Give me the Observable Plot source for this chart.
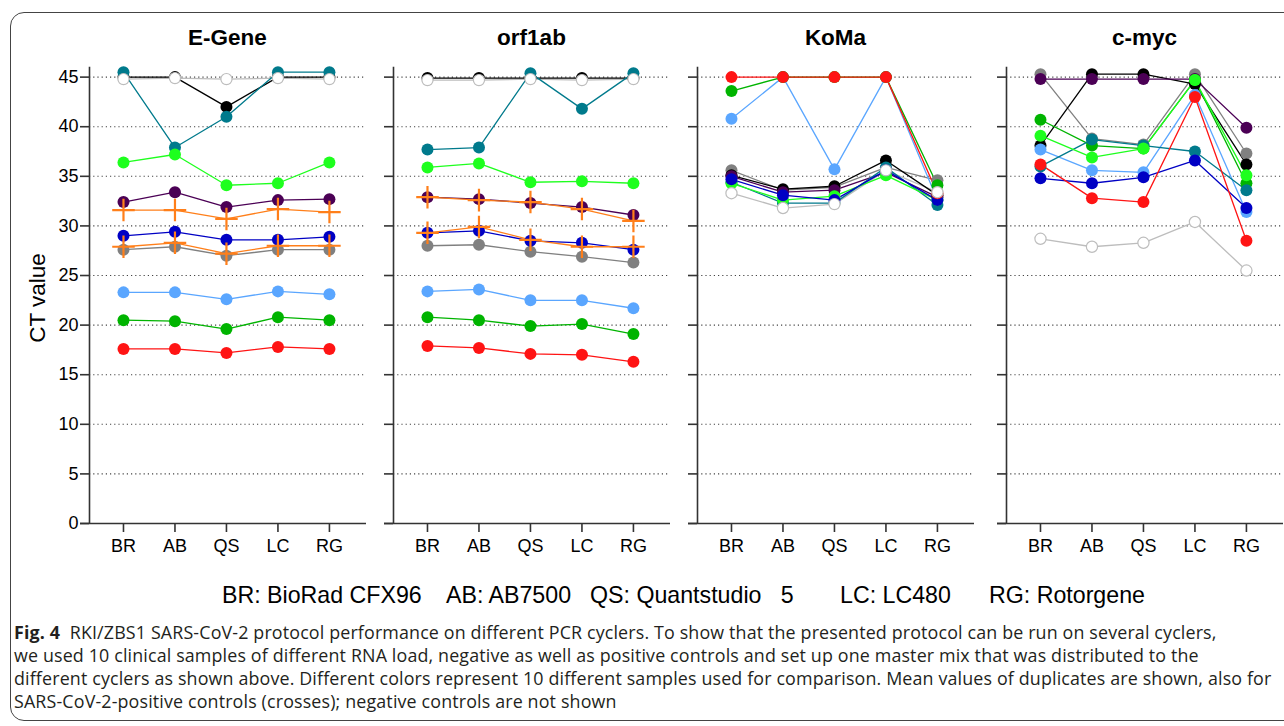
<!DOCTYPE html>
<html><head><meta charset="utf-8">
<script src="https://cdn.jsdelivr.net/npm/d3@7"></script>
<script src="https://cdn.jsdelivr.net/npm/@observablehq/plot@0.6"></script>
<style>
html,body{margin:0;padding:0;background:#fff;}
body{width:1284px;height:726px;position:relative;overflow:hidden;font-family:"Liberation Sans",Arial,sans-serif;color:#000;}
#box{position:absolute;left:10px;top:12px;width:1320px;height:709px;border:1px solid #444;border-radius:14px;box-sizing:border-box;}
.panel{position:absolute;top:0;}
.title{position:absolute;top:25px;font-weight:bold;font-size:22.5px;line-height:26px;transform:translateX(-50%);white-space:nowrap;}
#ylab{position:absolute;left:38px;top:298px;font-size:22.5px;line-height:26px;transform:translate(-50%,-50%) rotate(-90deg);white-space:nowrap;}
.leg{position:absolute;top:581px;font-size:23.2px;line-height:28px;white-space:pre;}
#caption{position:absolute;left:14px;top:621px;font-family:"Open Sans",sans-serif;font-size:17.85px;letter-spacing:0.15px;line-height:23px;color:#231f20;white-space:nowrap;}
#caption b{font-weight:700;}
</style>
</head><body>
<div id="box"></div>
<div id="root"></div>
<script>
// ---------- data ----------
const cyclers = ["BR", "AB", "QS", "LC", "RG"];
const cyclerNames = ["BioRad CFX96", "AB7500", "Quantstudio   5", "LC480", "Rotorgene"];
const genes = ["E-Gene", "orf1ab", "KoMa", "c-myc"];
const samples = ["S1", "S2", "S3", "S4", "S5", "S6", "S7", "S8", "S9", "S10"];
const controls = ["PC1", "PC2"];
const sampleColors = ["#ff1414", "#00b400", "#5aa6ff", "#808080", "#0000c4", "#4b0055", "#1eff1e", "#007a8c", "#000000", "#bdbdbd"];
const controlColor = "#ff7f1a";
const yTicks = [0, 5, 10, 15, 20, 25, 30, 35, 40, 45];

// rows = samples S1..S10, columns = BR, AB, QS, LC, RG
const eGene = [
  [17.6, 17.6, 17.2, 17.8, 17.6],
  [20.5, 20.4, 19.6, 20.8, 20.5],
  [23.3, 23.3, 22.6, 23.4, 23.1],
  [27.6, 27.9, 27.0, 27.6, 27.6],
  [29.0, 29.4, 28.6, 28.6, 28.9],
  [32.4, 33.4, 31.9, 32.6, 32.7],
  [36.4, 37.2, 34.1, 34.3, 36.4],
  [45.5, 37.9, 41.0, 45.5, 45.5],
  [45.0, 45.0, 42.0, 45.0, 45.0],
  [44.8, 44.9, 44.8, 44.9, 44.8]
];
const eGeneControls = [
  [31.6, 31.6, 30.7, 31.7, 31.4],
  [27.9, 28.3, 27.2, 28.0, 28.0]
];
const orf1ab = [
  [17.9, 17.7, 17.1, 17.0, 16.3],
  [20.8, 20.5, 19.9, 20.1, 19.1],
  [23.4, 23.6, 22.5, 22.5, 21.7],
  [28.0, 28.1, 27.4, 26.9, 26.3],
  [29.3, 29.5, 28.5, 28.3, 27.6],
  [32.9, 32.7, 32.3, 31.9, 31.1],
  [35.9, 36.3, 34.4, 34.5, 34.3],
  [37.7, 37.9, 45.4, 41.8, 45.4],
  [44.9, 44.9, 44.9, 44.9, 44.9],
  [44.7, 44.7, 44.8, 44.7, 44.8]
];
const orf1abControls = [
  [32.9, 32.6, 32.4, 31.7, 30.5],
  [29.3, 29.9, 28.6, 27.9, 27.9]
];
const koMa = [
  [45.0, 45.0, 45.0, 45.0, 33.3],
  [43.6, 45.0, 45.0, 45.0, 34.1],
  [40.8, 45.0, 35.7, 45.0, 32.6],
  [35.6, 33.6, 33.9, 35.9, 34.6],
  [34.7, 33.1, 32.6, 35.6, 32.6],
  [35.0, 33.4, 33.6, 35.4, 32.9],
  [34.3, 32.6, 33.0, 35.1, 32.6],
  [34.4, 32.3, 32.3, 35.9, 32.1],
  [35.1, 33.7, 34.0, 36.6, 33.1],
  [33.3, 31.8, 32.2, 35.6, 33.4]
];
const cMyc = [
  [36.2, 32.8, 32.4, 43.0, 28.5],
  [40.7, 38.1, 37.8, 44.7, 34.3],
  [37.7, 35.6, 35.4, 43.2, 31.4],
  [45.3, 38.8, 38.2, 45.3, 37.3],
  [34.8, 34.3, 34.9, 36.6, 31.8],
  [44.8, 44.8, 44.8, 44.8, 39.9],
  [39.1, 36.9, 37.8, 44.7, 35.1],
  [36.0, 38.7, 38.1, 37.5, 33.6],
  [38.1, 45.3, 45.3, 44.3, 36.2],
  [28.7, 27.9, 28.3, 30.4, 25.5]
];
const geneSamples = [eGene, orf1ab, koMa, cMyc];
const geneControls = [eGeneControls, orf1abControls, [], []];
const drawOrder = ["S10", "S4", "S9", "S6", "S3", "S2", "S8", "S7", "S5", "S1", "PC1", "PC2"];

// ---------- layout ----------
const axisX0 = [89, 393, 697, 1006];
const frameW = 277;
const xDomain = [-0.66, 4.72];
const FONT = '"Liberation Sans", Arial, sans-serif';

function buildRows(matrix, ids) {
  return matrix.flatMap((vals, r) => vals.map((ct, c) => ({id: ids[r], cycler: cyclers[c], xi: c, ct})));
}

const root = document.getElementById("root");
genes.forEach((gene, g) => {
  const rows = buildRows(geneSamples[g], samples).concat(buildRows(geneControls[g], controls))
    .sort((a, b) => drawOrder.indexOf(a.id) - drawOrder.indexOf(b.id));
  const filled = rows.filter(d => samples.includes(d.id) && d.id !== "S10");
  const hollow = rows.filter(d => d.id === "S10");
  const ctrl = rows.filter(d => controls.includes(d.id));
  const first = g === 0;
  const ml = first ? 89 : 20;
  const chart = Plot.plot({
    width: ml + frameW,
    height: 570,
    marginLeft: ml,
    marginRight: 0,
    marginTop: 66.7,
    marginBottom: 47,
    x: {type: "linear", domain: xDomain},
    y: {type: "linear", domain: [0, 46]},
    color: {domain: samples.concat(controls), range: sampleColors.concat([controlColor, controlColor])},
    style: {fontFamily: FONT, fontSize: "18px", background: "transparent", overflow: "visible", color: "#000"},
    marks: [
      Plot.gridY(yTicks.filter(d => d > 0), {stroke: "#444", strokeOpacity: 1, strokeWidth: 1.1, strokeDasharray: "1.2,3"}),
      Plot.ruleX([xDomain[0]], {stroke: "#333", strokeWidth: 1.6}),
      Plot.ruleY([0], {stroke: "#333", strokeWidth: 1.6, insetLeft: -9}),
      Plot.axisY({ticks: yTicks, tickSize: 9, tickPadding: 2, label: null, stroke: "#333", strokeWidth: 1.6, fill: "#000", fontSize: 18,
        tickFormat: first ? (d => String(d)) : (() => "")}),
      Plot.axisX({ticks: cyclers.map((_, k) => k), tickFormat: k => cyclers[k], tickSize: 9, tickPadding: 7, label: null,
        stroke: "#333", strokeWidth: 1.6, fill: "#000", fontSize: 18}),
      Plot.line(rows, {x: "xi", y: "ct", z: "id", stroke: "id", strokeWidth: 1.3}),
      Plot.dot(filled, {x: "xi", y: "ct", fill: "id", r: 6}),
      Plot.dot(hollow, {x: "xi", y: "ct", stroke: "id", fill: "white", r: 5.6, strokeWidth: 1.2}),
      Plot.dot(ctrl, {x: "xi", y: "ct", stroke: "id", symbol: "plus", r: 7.3, strokeWidth: 2.2})
    ]
  });
  const wrap = document.createElement("div");
  wrap.className = "panel";
  wrap.style.left = (axisX0[g] - ml) + "px";
  wrap.appendChild(chart);
  root.appendChild(wrap);

  const t = document.createElement("div");
  t.className = "title";
  t.style.left = (axisX0[g] + frameW / 2) + "px";
  t.textContent = gene;
  root.appendChild(t);
});

const yl = document.createElement("div");
yl.id = "ylab";
yl.textContent = "CT value";
root.appendChild(yl);

// legend of cycler abbreviations
const legX = [222, 446, 590, 840, 989];
cyclers.forEach((c, i) => {
  const s = document.createElement("div");
  s.className = "leg";
  s.style.left = legX[i] + "px";
  s.textContent = c + ": " + cyclerNames[i];
  root.appendChild(s);
});

const cap = document.createElement("div");
cap.id = "caption";
cap.innerHTML = '<b>Fig. 4</b>&nbsp; RKI/ZBS1 SARS-CoV-2 protocol performance on different PCR cyclers. To show that the presented protocol can be run on several cyclers,<br>' +
  'we used 10 clinical samples of different RNA load, negative as well as positive controls and set up one master mix that was distributed to the<br>' +
  'different cyclers as shown above. Different colors represent 10 different samples used for comparison. Mean values of duplicates are shown, also for<br>' +
  'SARS-CoV-2-positive controls (crosses); negative controls are not shown';
root.appendChild(cap);
</script>
</body></html>
